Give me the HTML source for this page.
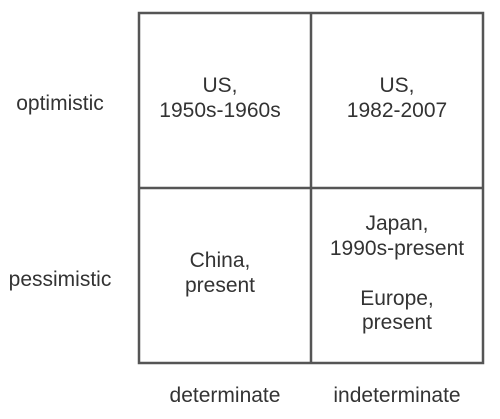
<!DOCTYPE html>
<html><head><meta charset="utf-8"><style>
body{margin:0;background:#fff;}
svg text{font-family:"Liberation Sans",sans-serif;font-size:21px;fill:#333;text-anchor:middle;}
</style></head><body>
<svg width="500" height="414">
<g stroke="#555" stroke-width="2.5" fill="none">
<rect x="139" y="13" width="344" height="350"/>
<line x1="311" y1="13" x2="311" y2="363"/>
<line x1="139" y1="188" x2="483" y2="188"/>
</g>
<text x="60" y="110">optimistic</text>
<text x="60" y="286">pessimistic</text>
<text x="225" y="402">determinate</text>
<text x="397" y="402">indeterminate</text>
<g><text x="220" y="92">US,</text><text x="220" y="117">1950s-1960s</text></g>
<g><text x="397" y="92">US,</text><text x="397" y="117">1982-2007</text></g>
<g><text x="220" y="267">China,</text><text x="220" y="292">present</text></g>
<g><text x="397" y="230">Japan,</text><text x="397" y="255">1990s-present</text><text x="397" y="305">Europe,</text><text x="397" y="329">present</text></g>
</svg>
</body></html>
